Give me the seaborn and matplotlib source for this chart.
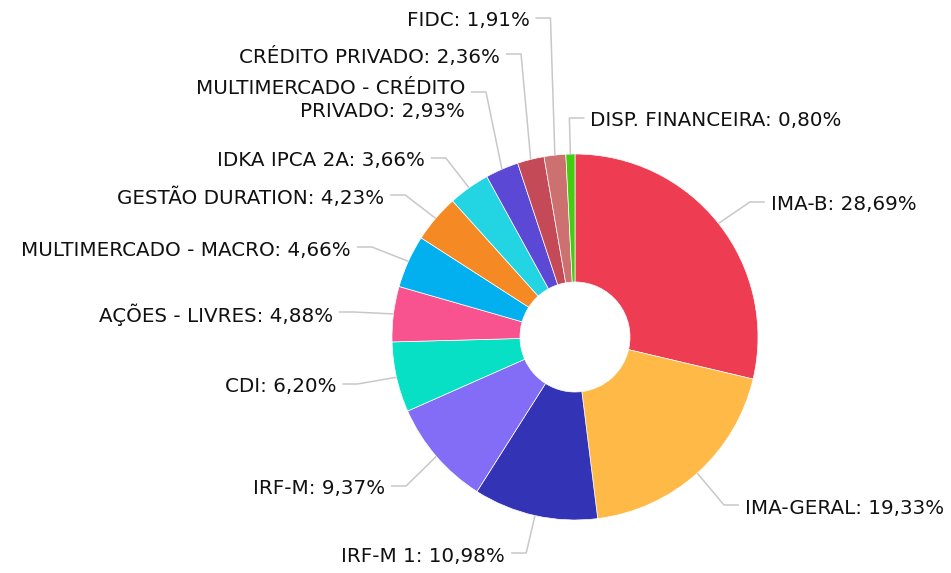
import numpy as np
import matplotlib
matplotlib.use("Agg")
import matplotlib.pyplot as plt
import seaborn as sns

# ---- data ----
categories = ["IMA-B", "IMA-GERAL", "IRF-M 1", "IRF-M", "CDI", "AÇÕES - LIVRES",
              "MULTIMERCADO - MACRO", "GESTÃO DURATION", "IDKA IPCA 2A",
              "MULTIMERCADO - CRÉDITO\nPRIVADO", "CRÉDITO PRIVADO", "FIDC",
              "DISP. FINANCEIRA"]
values = [28.69, 19.33, 10.98, 9.37, 6.20, 4.88, 4.66, 4.23, 3.66, 2.93, 2.36, 1.91, 0.80]
colors = ["#EE3D52", "#FFB946", "#3333B5", "#836DF7", "#08E0C6", "#F8528F",
          "#02B0F0", "#F58A24", "#23D4E2", "#5B48D5", "#C44A57", "#CC7070", "#44CC11"]

# ---- label layout (screen px) ----
label_side = ["R", "R", "L", "L", "L", "L", "L", "L", "L", "L", "L", "L", "R"]
label_y = [202, 505, 553, 486, 384, 312, 247, 195, 158, 92, 54, 18, 118]

sns.set_theme(style="white")
plt.rcParams["font.family"] = ["DejaVu Sans"]

W, H = 951, 573
fig = plt.figure(figsize=(W / 100, H / 100), dpi=100)
ax = fig.add_axes([0, 0, 1, 1])

cx, cy, R, r_in = 575, 337, 183, 55
palette = sns.color_palette(colors)
wedges, _ = ax.pie(values, colors=palette, startangle=-90, counterclock=True,
                   radius=R, center=(cx, cy),
                   wedgeprops=dict(width=R - r_in, edgecolor="white", linewidth=0.5))
ax.set_xlim(0, W)
ax.set_ylim(H, 0)
ax.set_aspect("equal")
ax.axis("off")

FS = 14.3
total = sum(values)
cum = 0.0
for cat, v, side, ly in zip(categories, values, label_side, label_y):
    mid = (cum + v / 2) / total * 2 * np.pi
    cum += v
    dx, dy = np.sin(mid), -np.cos(mid)
    x0, y0 = cx + R * dx, cy + R * dy
    ex = cx + 223 * dx
    sgn = 1 if side == "R" else -1
    x2 = ex + sgn * 15
    ax.plot([x0, ex, x2], [y0, ly, ly], color="#c8c8c8", lw=1.1,
            solid_capstyle="butt", zorder=1)
    label = f"{cat}: " + f"{v:.2f}".replace(".", ",") + "%"
    tx = x2 + sgn * 6
    if "\n" in cat:
        ax.text(tx, ly - 13, label, ha="right", va="top", fontsize=FS,
                color="#111111", linespacing=1.25, multialignment="right")
    else:
        ax.text(tx, ly + 3, label, ha="left" if side == "R" else "right",
                va="center", fontsize=FS, color="#111111")

fig.savefig("out.png", dpi=100)
